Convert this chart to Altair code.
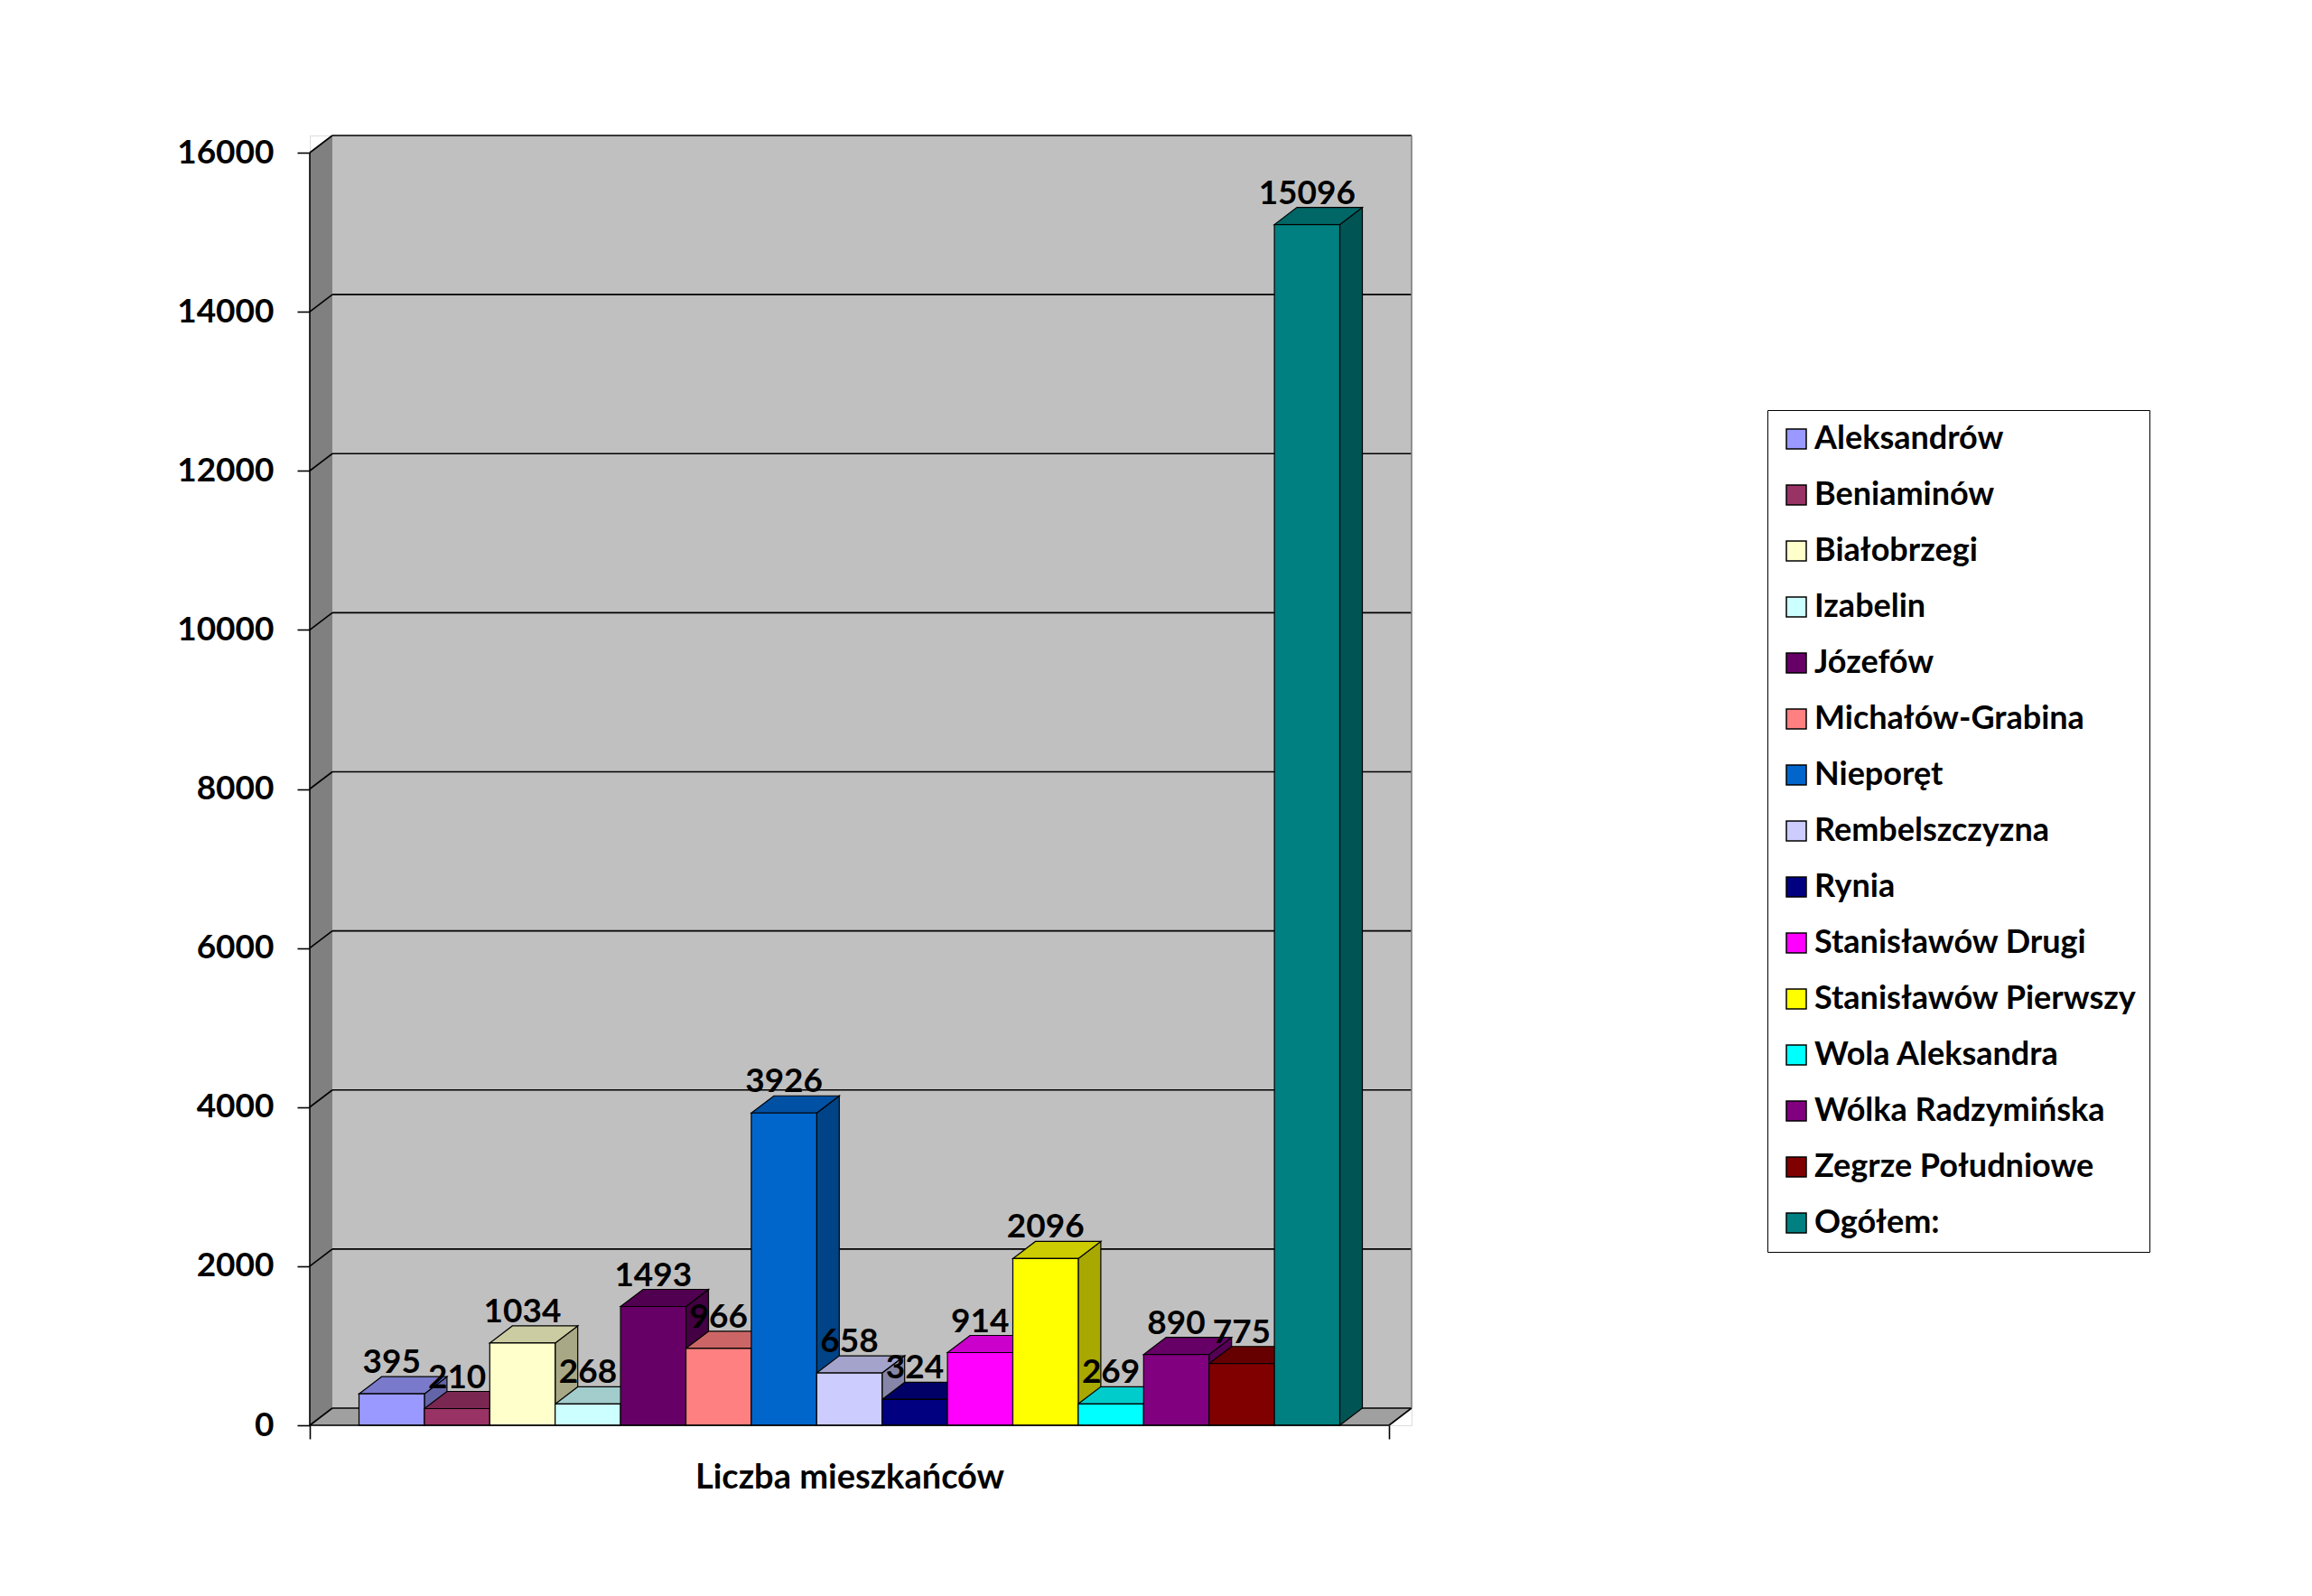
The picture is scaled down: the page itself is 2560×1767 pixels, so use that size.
import altair as alt
import pandas as pd

# ---------------- data ----------------
names = ["Aleksandrów", "Beniaminów", "Białobrzegi", "Izabelin", "Józefów",
         "Michałów-Grabina", "Nieporęt", "Rembelszczyzna", "Rynia",
         "Stanisławów Drugi", "Stanisławów Pierwszy", "Wola Aleksandra",
         "Wólka Radzymińska", "Zegrze Południowe", "Ogółem:"]
values = [395, 210, 1034, 268, 1493, 966, 3926, 658, 324, 914, 2096, 269, 890, 775, 15096]
colors = ["#9999FF", "#993366", "#FFFFCC", "#CCFFFF", "#660066", "#FF8080", "#0066CC",
          "#CCCCFF", "#000080", "#FF00FF", "#FFFF00", "#00FFFF", "#800080", "#800000", "#008080"]
y_ticks = [0, 2000, 4000, 6000, 8000, 10000, 12000, 14000, 16000]
x_title = "Liczba mieszkańców"

# ---------------- layout constants ----------------
BAR_PX = 72.4            # pixels per bar slot
GAP = 0.753              # gap before first / after last bar (in bar units)
Y_PX = 1409 / 16000      # pixels per data unit on y
DEPTH_X = 25 / BAR_PX    # 3D depth in x units
DEPTH_Y = 19 / Y_PX      # 3D depth in y units
N = len(values)
XF = N + 2 * GAP
XMAX = XF + DEPTH_X
YTOP = y_ticks[-1]
YMAX = YTOP + DEPTH_Y
W = round(XMAX * BAR_PX)
H = round(YMAX * Y_PX)

FONT = "Lato"


def shade(hexcol, f):
    h = hexcol.lstrip("#")
    r, g, b = (int(h[i:i + 2], 16) for i in (0, 2, 4))
    return "#%02x%02x%02x" % (int(r * f), int(g * f), int(b * f))


# ---------------- tables ----------------
front_rows, side_rows, top_rows, label_rows = [], [], [], []
for i, (n, v, c) in enumerate(zip(names, values, colors)):
    x0 = GAP + i
    x1 = x0 + 1
    front_rows.append(dict(name=n, x0=x0, x1=x1, y0=0, v=v))
    sc = shade(c, 0.66)
    side_rows += [dict(name=n, fill=sc, x=x1, lo=0, hi=v),
                  dict(name=n, fill=sc, x=x1 + DEPTH_X, lo=DEPTH_Y, hi=v + DEPTH_Y)]
    tc = shade(c, 0.8)
    top_rows += [dict(name=n, fill=tc, x=x0, lo=v, hi=v),
                 dict(name=n, fill=tc, x=x0 + DEPTH_X, lo=v, hi=v + DEPTH_Y),
                 dict(name=n, fill=tc, x=x1, lo=v, hi=v + DEPTH_Y),
                 dict(name=n, fill=tc, x=x1 + DEPTH_X, lo=v + DEPTH_Y, hi=v + DEPTH_Y)]
    label_rows.append(dict(name=n, x=x0 + 0.5, y=v + DEPTH_Y, v=v))

front_df = pd.DataFrame(front_rows)
side_df = pd.DataFrame(side_rows)
top_df = pd.DataFrame(top_rows)
label_df = pd.DataFrame(label_rows)

walls_df = pd.DataFrame([
    dict(part="back", fill="#C0C0C0", x=DEPTH_X, lo=DEPTH_Y, hi=YMAX),
    dict(part="back", fill="#C0C0C0", x=XMAX, lo=DEPTH_Y, hi=YMAX),
    dict(part="left", fill="#808080", x=0, lo=0, hi=YTOP),
    dict(part="left", fill="#808080", x=DEPTH_X, lo=DEPTH_Y, hi=YMAX),
    dict(part="floor", fill="#A0A0A0", x=0, lo=0, hi=0),
    dict(part="floor", fill="#A0A0A0", x=DEPTH_X, lo=0, hi=DEPTH_Y),
    dict(part="floor", fill="#A0A0A0", x=XF, lo=0, hi=DEPTH_Y),
    dict(part="floor", fill="#A0A0A0", x=XMAX, lo=DEPTH_Y, hi=DEPTH_Y),
])

grid_rows = []
for t in y_ticks:
    grid_rows.append(dict(x=DEPTH_X, x2=XMAX, y=t + DEPTH_Y, y2=t + DEPTH_Y))
    grid_rows.append(dict(x=0, x2=DEPTH_X, y=t, y2=t + DEPTH_Y))
grid_df = pd.DataFrame(grid_rows)

edge_df = pd.DataFrame([
    dict(x=0, x2=0, y=0, y2=YTOP, col="black"),
    dict(x=0, x2=XF, y=0, y2=0, col="black"),
    dict(x=XF, x2=XMAX, y=0, y2=DEPTH_Y, col="black"),
    dict(x=XMAX, x2=XMAX, y=DEPTH_Y, y2=YMAX, col="#808080"),
])

xs = alt.Scale(domain=[0, XMAX], nice=False, zero=False)
ys = alt.Scale(domain=[0, YMAX], nice=False, zero=False)

x_axis = alt.Axis(values=[0, XF], labels=False, domain=False, grid=False,
                  tickSize=15, tickColor="black", tickWidth=1.6,
                  title=x_title, titleFont=FONT, titleFontSize=38,
                  titleFontWeight="bold", titleColor="black",
                  titleX=XF / 2 * BAR_PX, titleY=69,
                  titleBaseline="alphabetic", titleAlign="center")
y_axis = alt.Axis(values=y_ticks, format="d", domain=False, grid=False, tickSize=14,
                  tickColor="black", tickWidth=1.6, labelFont=FONT,
                  labelFontSize=37, labelFontWeight="bold", labelColor="black",
                  labelPadding=26, title=None, labelOverlap=False)

walls = alt.Chart(walls_df).mark_area(orient="vertical").encode(
    x=alt.X("x:Q", scale=xs, axis=x_axis),
    y=alt.Y("hi:Q", scale=ys, axis=y_axis, stack=False),
    y2="lo:Q",
    color=alt.Color("fill:N", scale=None),
    detail="part:N",
)

grid = alt.Chart(grid_df).mark_rule(color="black", strokeWidth=1.6).encode(
    x=alt.X("x:Q", scale=xs), x2="x2:Q",
    y=alt.Y("y:Q", scale=ys), y2="y2:Q",
)

sides = alt.Chart(side_df).mark_area(orient="vertical", stroke="black", strokeWidth=1.2).encode(
    x=alt.X("x:Q", scale=xs),
    y=alt.Y("hi:Q", scale=ys, stack=False),
    y2="lo:Q",
    color=alt.Color("fill:N", scale=None),
    detail="name:N",
)

tops = alt.Chart(top_df).mark_area(orient="vertical", stroke="black", strokeWidth=1.2).encode(
    x=alt.X("x:Q", scale=xs),
    y=alt.Y("hi:Q", scale=ys, stack=False),
    y2="lo:Q",
    color=alt.Color("fill:N", scale=None),
    detail="name:N",
)

front = alt.Chart(front_df).mark_rect(stroke="black", strokeWidth=1.2).encode(
    x=alt.X("x0:Q", scale=xs),
    x2="x1:Q",
    y=alt.Y("y0:Q", scale=ys),
    y2="v:Q",
    color=alt.Color("name:N", scale=alt.Scale(domain=names, range=colors),
                    legend=alt.Legend(title=None, orient="none",
                                      legendX=1957 - 343, legendY=454 - 150,
                                      symbolType="square", symbolSize=484,
                                      symbolStrokeColor="black", symbolStrokeWidth=1.5,
                                      labelFont=FONT, labelFontSize=36,
                                      labelFontWeight="bold", labelColor="black",
                                      labelLimit=800, labelOffset=2,
                                      rowPadding=26, padding=14,
                                      strokeColor="black", fillColor="white")),
)

edges = alt.Chart(edge_df).mark_rule(strokeWidth=1.6).encode(
    x=alt.X("x:Q", scale=xs), x2="x2:Q",
    y=alt.Y("y:Q", scale=ys), y2="y2:Q",
    color=alt.Color("col:N", scale=None),
)

labels = alt.Chart(label_df).mark_text(baseline="alphabetic", dy=-4, font=FONT,
                                       fontSize=37, fontWeight="bold", color="black").encode(
    x=alt.X("x:Q", scale=xs),
    y=alt.Y("y:Q", scale=ys),
    text="v:Q",
)

chart = alt.layer(walls, grid, sides, tops, front, edges, labels).properties(
    width=W, height=H,
    autosize=alt.AutoSizeParams(type="none"),
    padding={"left": 335, "top": 142, "right": 2544 - 335 - W, "bottom": 120},
).configure_view(strokeWidth=0).configure(background="white")

chart.save("out.html", embed_options={"renderer": "svg", "actions": False})
